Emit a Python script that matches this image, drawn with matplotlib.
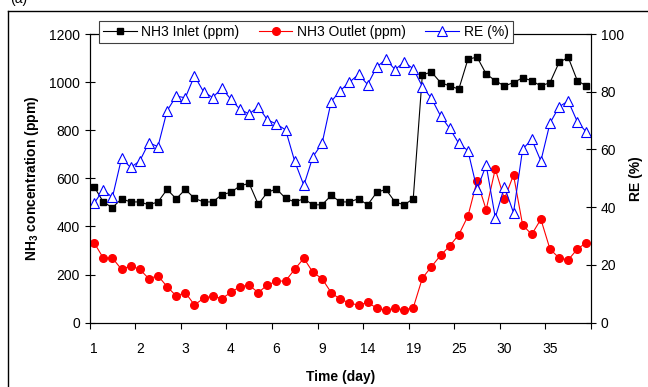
import numpy as np
import matplotlib
matplotlib.use('Agg')
import matplotlib.pyplot as plt
from matplotlib.lines import Line2D

plt.rcParams['font.family'] = ['Liberation Sans', 'DejaVu Sans']
plt.rcParams['mathtext.fontset'] = 'custom'
plt.rcParams['mathtext.rm'] = 'Liberation Sans'
plt.rcParams['mathtext.bf'] = 'Liberation Sans:bold'

day_labels = ['1', '2', '3', '4', '6', '9', '14', '19', '25', '30', '35']

inlet = [565, 502, 478, 515, 502, 502, 490, 502, 554, 515, 554, 517, 502, 502, 532,
         542, 569, 579, 492, 542, 556, 517, 502, 515, 490, 490, 529, 502, 502, 515,
         490, 542, 554, 502, 490, 515, 1030, 1042, 998, 984, 971, 1095, 1104, 1034, 1006,
         984, 998, 1018, 1006, 984, 998, 1082, 1103, 1006, 984]

outlet = [332, 269, 269, 222, 236, 222, 183, 195, 150, 111, 125, 74, 101, 111, 100,
          126, 150, 156, 125, 157, 172, 174, 222, 268, 209, 183, 125, 97, 83, 72,
          85, 60, 52, 60, 53, 62, 185, 233, 280, 319, 366, 443, 589, 470, 639,
          514, 614, 406, 367, 430, 306, 269, 261, 306, 333]

removal = [41.4, 46, 43.4, 56.9, 53.8, 56, 62.3, 61, 73.4, 78.5, 77.9, 85.5, 80, 78, 81.2,
           77.4, 73.9, 72.3, 74.8, 70.3, 68.8, 66.8, 55.9, 47.6, 57.5, 62.1, 76.6, 80.4, 83.3, 86,
           82.5, 88.6, 91.2, 87.7, 90.2, 88, 81.8, 77.7, 71.6, 67.3, 62.1, 59.6, 46.2, 54.6, 36.4,
           47.1, 38.1, 60.1, 63.5, 56, 69.1, 74.8, 76.8, 69.6, 66]

x = np.arange(len(inlet))

fig = plt.figure(figsize=(6.48, 3.87), dpi=100)
ax1 = fig.add_axes([89.6 / 648, 1 - 322.7 / 387, (591 - 89.6) / 648, (322.7 - 34) / 387])

ax1.plot(x, inlet, color='black', marker='s', markersize=5, linewidth=0.8,
         label='NH3 Inlet (ppm)')
ax1.plot(x, outlet, color='red', marker='o', markersize=5.5, linewidth=0.8,
         label='NH3 Outlet (ppm)')
ax1.set_ylim(0, 1200)
ax1.set_yticks(np.arange(0, 1201, 200))
ax1.set_xlim(-0.5, len(inlet) - 0.5)
ax1.set_xticks(np.arange(-0.5, len(inlet), 5))
ax1.set_xticklabels([])
ax1.set_xticks(np.arange(0, 51, 5), minor=True)
ax1.set_xticklabels(day_labels, minor=True)
ax1.tick_params(axis='x', which='major', direction='out', length=4, width=0.8)
ax1.tick_params(axis='x', which='minor', length=0, pad=14, labelsize=10)
ax1.tick_params(axis='y', direction='inout', length=7, width=0.8, labelsize=10)
ax1.set_ylabel(r'NH$_\mathbf{3}$ concentration (ppm)', fontsize=10, fontweight='bold',
               labelpad=6)
ax1.set_xlabel('Time (day)', fontsize=10, fontweight='bold', labelpad=10)

ax2 = ax1.twinx()
ax2.plot(x, removal, color='blue', marker='^', markersize=6.5, markerfacecolor='white',
         markeredgewidth=0.8, linewidth=0.8, label='RE (%)')
ax2.set_ylim(0, 100)
ax2.set_yticks(np.arange(0, 101, 20))
ax2.tick_params(axis='y', direction='inout', length=7, width=0.8, labelsize=10)
ax2.set_ylabel('RE (%)', fontsize=10, fontweight='bold', labelpad=4)

for a in (ax1, ax2):
    for s in a.spines.values():
        s.set_linewidth(0.8)

lines, labels = ax1.get_legend_handles_labels()
lines2, labels2 = ax2.get_legend_handles_labels()
leg = fig.legend(lines + lines2, labels + labels2, loc='upper left',
                 bbox_to_anchor=(99 / 648, 1 - 20.7 / 387), ncol=3, fontsize=10,
                 frameon=True, fancybox=False, framealpha=1, edgecolor='#404040',
                 handlelength=2.4, handletextpad=0.35, columnspacing=1.4,
                 borderpad=0.3, borderaxespad=0)
leg.get_frame().set_linewidth(0.8)

# outer frame of the original figure
fig.add_artist(Line2D([8 / 648, 8 / 648], [0, 1 - 11 / 387], color='black', linewidth=1))
fig.add_artist(Line2D([8 / 648, 1], [1 - 11 / 387, 1 - 11 / 387], color='black', linewidth=1))
fig.text(10 / 648, 1 - 3 / 387, '(a)', fontsize=10, va='baseline')

fig.savefig('out.png', dpi=100)
